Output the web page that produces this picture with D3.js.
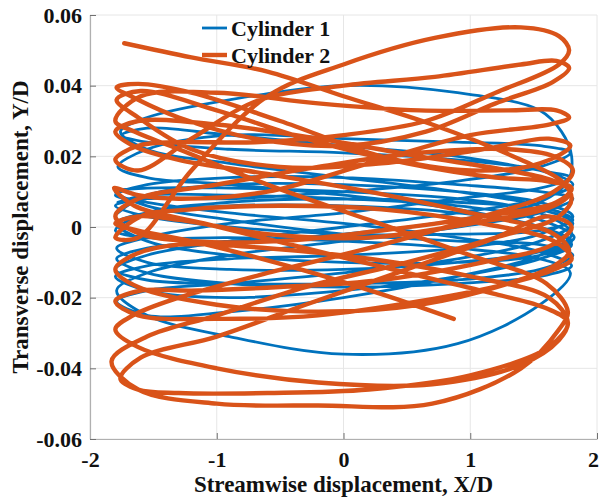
<!DOCTYPE html>
<html>
<head>
<meta charset="utf-8">
<script src="https://cdn.jsdelivr.net/npm/d3@7/dist/d3.min.js"></script>
<style>
  html, body { margin: 0; padding: 0; background: #fff; }
  svg { display: block; }
  text { font-family: "Liberation Serif", "Times New Roman", serif; font-weight: bold; fill: #111; }
</style>
</head>
<body>
<svg id="chart" width="600" height="500"></svg>
<script>
// ---- data ----
const xTicks = [-2, -1, 0, 1, 2];
const xTickLabels = ["-2", "-1", "0", "1", "2"];
const yTicks = [-0.06, -0.04, -0.02, 0, 0.02, 0.04, 0.06];
const yTickLabels = ["-0.06", "-0.04", "-0.02", "0", "0.02", "0.04", "0.06"];
const seriesNames = ["Cylinder 1", "Cylinder 2"];

// Cylinder 1 trajectory (X/D, Y/D)
const cyl1 = [
  [-1.78,0.004],[-1.55,0.009],[-0.9,0.012],[0,0.012],[0.9,0.010],[1.55,0.007],[1.81,0.003],
  [1.55,-0.002],[0.9,-0.006],[0,-0.008],[-0.9,-0.009],[-1.55,-0.011],[-1.80,-0.014],
  [-1.55,-0.018],[-0.9,-0.020],[0,-0.018],[0.9,-0.014],[1.55,-0.009],[1.80,-0.005],
  [1.55,0.000],[0.9,0.004],[0,0.006],[-0.9,0.006],[-1.55,0.004],[-1.79,0.001],
  [-1.55,-0.004],[-0.9,-0.008],[0,-0.010],[0.9,-0.010],[1.55,-0.008],[1.80,-0.004],
  [1.55,0.000],[0.9,0.005],[0,0.009],[-0.9,0.012],[-1.55,0.014],[-1.78,0.017],
  [-1.55,0.022],[-0.9,0.026],[0,0.025],[0.9,0.024],[1.55,0.023],[1.79,0.021],
  [1.55,0.017],[0.9,0.013],[0,0.010],[-0.9,0.008],[-1.55,0.008],[-1.80,0.006],
  [-1.55,0.003],[-0.9,0.000],[0,-0.002],[0.9,-0.002],[1.55,-0.001],[1.81,0.002],
  [1.55,0.006],[0.9,0.010],[0,0.014],[-0.9,0.018],[-1.55,0.022],[-1.76,0.027],
  [-1.55,0.031],[-0.9,0.036],[0,0.040],[0.9,0.038],[1.55,0.033],[1.72,0.027],[1.80,0.020],[1.77,0.013],
  [1.55,0.007],[0.9,0.002],[0,-0.002],[-0.9,-0.004],[-1.55,-0.006],[-1.79,-0.009],
  [-1.55,-0.013],[-0.9,-0.016],[0,-0.017],[0.9,-0.016],[1.55,-0.014],[1.80,-0.011],
  [1.55,-0.007],[0.9,-0.003],[0,0.001],[-0.9,0.004],[-1.55,0.007],[-1.80,0.009],
  [-1.55,0.012],[-0.9,0.014],[0,0.014],[0.9,0.012],[1.55,0.010],[1.81,0.008],
  [1.55,0.004],[0.9,0.000],[0,-0.004],[-0.9,-0.008],[-1.55,-0.013],[-1.79,-0.018],
  [-1.55,-0.025],[-0.9,-0.031],[0,-0.036],[0.9,-0.033],[1.55,-0.022],[1.79,-0.013],
  [1.55,-0.009],[0.9,-0.006],[0,-0.004],[-0.9,-0.003],[-1.55,-0.003],[-1.80,-0.001],
  [-1.55,0.004],[-0.9,0.007],[0,0.008],[0.9,0.007],[1.55,0.005],[1.81,0.001],
  [1.55,-0.004],[0.9,-0.009],[0,-0.013],[-0.9,-0.016],[-1.55,-0.018],[-1.79,-0.021],
  [-1.55,-0.025],[-0.9,-0.024],[0,-0.020],[0.9,-0.014],[1.55,-0.008],[1.80,-0.002],
  [1.55,0.004],[0.9,0.008],[0,0.010],[-0.9,0.011],[-1.55,0.011],[-1.80,0.010],
  [-1.55,0.006],[-0.9,0.002],[0,-0.002],[0.9,-0.004],[1.55,-0.005],[1.81,-0.008],
  [1.55,-0.012],[0.9,-0.015],[0,-0.016],[-0.9,-0.016],[-1.55,-0.015],[-1.80,-0.012],
  [-1.55,-0.008],[-0.9,-0.004],[0,0.000],[0.9,0.004],[1.55,0.008],[1.81,0.012],
  [1.55,0.016],[0.9,0.019],[0,0.021],[-0.9,0.022],[-1.55,0.024],[-1.75,0.026],
  [-1.55,0.028],[-0.9,0.026],[0,0.023],[0.9,0.020],[1.55,0.016],[1.79,0.014],
  [1.55,0.011],[0.9,0.008],[0,0.004],[-0.9,0.001],[-1.55,-0.003],[-1.79,-0.006],
  [-1.55,-0.010],[-0.9,-0.012],[0,-0.012],[0.9,-0.010],[1.55,-0.007],[1.82,-0.003],
  [1.55,0.002],[0.9,0.006],[0,0.008],[-0.9,0.009],[-1.55,0.009],[-1.78,0.007]
];

// Cylinder 2 trajectory (X/D, Y/D)
const cyl2 = [
  [-1.73,0.052],[-1.2,0.048],[-0.6,0.044],[0,0.037],[0.7,0.029],[1.4,0.019],[1.72,0.013],[1.80,0.008],
  [1.7,0.003],[1.2,-0.003],[0.5,-0.010],[-0.3,-0.017],[-1.0,-0.025],[-1.55,-0.031],[-1.83,-0.038],
  [-1.62,-0.046],[-1.0,-0.050],[-0.2,-0.0505],[0.7,-0.050],[1.4,-0.040],[1.7,-0.029],[1.77,-0.024],
  [1.6,-0.016],[1.0,-0.008],[0.2,0.002],[-0.6,0.012],[-1.3,0.022],[-1.65,0.027],[-1.80,0.030],
  [-1.6,0.037],[-1.0,0.038],[-0.2,0.035],[0.6,0.033],[1.3,0.033],[1.68,0.033],[1.78,0.031],
  [1.62,0.029],[1.0,0.026],[0.2,0.018],[-0.6,0.010],[-1.3,0.008],[-1.62,0.009],[-1.81,0.011],
  [-1.65,0.006],[-1.1,0.001],[-0.3,-0.006],[0.5,-0.013],[1.2,-0.019],[1.6,-0.023],[1.77,-0.027],
  [1.62,-0.034],[1.0,-0.042],[0.2,-0.046],[-0.6,-0.047],[-1.3,-0.047],[-1.62,-0.046],[-1.76,-0.043],
  [-1.6,-0.037],[-1.0,-0.031],[-0.3,-0.022],[0.5,-0.012],[1.2,-0.003],[1.62,0.003],[1.80,0.000],
  [1.65,-0.005],[1.1,-0.010],[0.3,-0.015],[-0.5,-0.017],[-1.2,-0.018],[-1.6,-0.018],[-1.80,-0.021],
  [-1.62,-0.025],[-1.0,-0.026],[-0.2,-0.025],[0.6,-0.021],[1.3,-0.016],[1.66,-0.012],[1.80,-0.009],
  [1.66,-0.004],[1.1,0.001],[0.3,0.005],[-0.5,0.006],[-1.2,0.005],[-1.6,0.003],[-1.80,-0.003],
  [-1.62,-0.003],[-1.2,0.016],[-0.6,0.037],[0,0.046],[0.72,0.0535],[1.4,0.0565],[1.7,0.054],[1.78,0.050],
  [1.7,0.046],[1.2,0.038],[0.65,0.030],[0,0.026],[-0.7,0.024],[-1.3,0.024],[-1.62,0.023],[-1.80,0.019],
  [-1.62,0.016],[-1.2,0.025],[-0.69,0.0356],[0,0.040],[0.72,0.0425],[1.4,0.046],[1.68,0.047],[1.78,0.045],
  [1.65,0.041],[1.2,0.035],[0.65,0.027],[0,0.023],[-0.7,0.025],[-1.3,0.031],[-1.62,0.036],[-1.79,0.0395],
  [-1.62,0.0405],[-1.2,0.038],[-0.5,0.030],[0.3,0.020],[1.0,0.016],[1.55,0.018],[1.79,0.023],
  [1.62,0.025],[1.1,0.022],[0.3,0.018],[-0.5,0.017],[-1.2,0.022],[-1.62,0.031],[-1.79,0.036],
  [-1.6,0.0385],[-1.0,0.033],[-0.3,0.025],[0.5,0.018],[1.2,0.014],[1.6,0.013],[1.80,0.011],
  [1.68,0.007],[1.1,0.003],[0.3,-0.001],[-0.5,-0.004],[-1.2,-0.004],[-1.6,-0.002],[-1.80,0.003],
  [-1.62,0.008],[-1.0,0.012],[-0.2,0.017],[0.6,0.021],[1.3,0.022],[1.66,0.020],[1.81,0.016],
  [1.66,0.010],[1.0,0.002],[0.2,-0.006],[-0.6,-0.013],[-1.3,-0.020],[-1.66,-0.025],[-1.80,-0.029],
  [-1.62,-0.034],[-1.0,-0.040],[-0.2,-0.044],[0.7,-0.0445],[1.4,-0.039],[1.7,-0.032],[1.77,-0.027],
  [1.62,-0.020],[1.0,-0.014],[0.2,-0.009],[-0.6,-0.006],[-1.3,-0.005],[-1.66,-0.008],[-1.80,-0.012],
  [-1.62,-0.017],[-1.0,-0.022],[-0.2,-0.024],[0.6,-0.022],[1.3,-0.016],[1.66,-0.011],[1.78,-0.007],
  [1.66,-0.002],[1.0,0.004],[0.2,0.010],[-0.6,0.015],[-1.3,0.019],[-1.66,0.023],[-1.80,0.027],
  [-1.62,0.030],[-1.0,0.029],[-0.2,0.025],[0.6,0.020],[1.3,0.016],[1.66,0.013],[1.79,0.010],
  [1.66,0.006],[1.0,0.001],[0.2,-0.003],[-0.6,-0.002],[-1.3,0.002],[-1.62,0.003],[-1.80,0.001],
  [-1.62,-0.001],[-1.2,-0.004],[-0.34,-0.012],[0.3,-0.019],[0.87,-0.026]
];

// ---- layout ----
const W = 600, H = 500;
const plot = { left: 90, right: 597, top: 15, bottom: 439 };
const colors = ["#0072BD", "#D95319"];
const widths = [2.8, 4.4];

const svg = d3.select("#chart");
const x = d3.scaleLinear().domain([-2, 2]).range([plot.left, plot.right]);
const y = d3.scaleLinear().domain([-0.06, 0.06]).range([plot.bottom, plot.top]);

// grid
const grid = svg.append("g");
grid.selectAll("line.gx").data(xTicks).join("line")
  .attr("x1", d => x(d)).attr("x2", d => x(d))
  .attr("y1", plot.top).attr("y2", plot.bottom)
  .attr("stroke", "#e6e6e6").attr("stroke-width", 1);
grid.selectAll("line.gy").data(yTicks).join("line")
  .attr("x1", plot.left).attr("x2", plot.right)
  .attr("y1", d => y(d)).attr("y2", d => y(d))
  .attr("stroke", "#e6e6e6").attr("stroke-width", 1);

// clip
svg.append("clipPath").attr("id", "clip").append("rect")
  .attr("x", plot.left).attr("y", plot.top)
  .attr("width", plot.right - plot.left).attr("height", plot.bottom - plot.top);

const line = d3.line().x(d => x(d[0])).y(d => y(d[1])).curve(d3.curveCatmullRom.alpha(0.5));
const g = svg.append("g").attr("clip-path", "url(#clip)");
[cyl1, cyl2].forEach((s, i) => {
  g.append("path").datum(s)
    .attr("d", line)
    .attr("fill", "none")
    .attr("stroke", colors[i])
    .attr("stroke-width", widths[i])
    .attr("stroke-linejoin", "round")
    .attr("stroke-linecap", "round");
});

// axes
const xAxis = d3.axisBottom(x).tickValues(xTicks).tickFormat((d, i) => xTickLabels[i])
  .tickSizeInner(-6).tickSizeOuter(0).tickPadding(14);
const yAxis = d3.axisLeft(y).tickValues(yTicks).tickFormat((d, i) => yTickLabels[i])
  .tickSizeInner(-6).tickSizeOuter(0).tickPadding(14);

const gx = svg.append("g").attr("transform", `translate(0,${plot.bottom})`).call(xAxis);
const gy = svg.append("g").attr("transform", `translate(${plot.left},0)`).call(yAxis);
[gx, gy].forEach(a => {
  a.select(".domain").attr("stroke", "#b0b0b0").attr("stroke-width", 1.2);
  a.selectAll(".tick line").attr("stroke", "#707070").attr("stroke-width", 1);
  a.selectAll(".tick text").attr("font-size", 22).attr("font-family", null).attr("fill", "#111");
});
gy.selectAll(".tick text").attr("x", -8);
gx.selectAll(".tick text").attr("y", 12).attr("dx", (d, i) => i === xTicks.length - 1 ? -4 : 0);

// axis labels
svg.append("text")
  .attr("x", x(0)).attr("y", 492)
  .attr("text-anchor", "middle").attr("font-size", 23)
  .text("Streamwise displacement, X/D");
svg.append("text")
  .attr("transform", `translate(28,${(plot.top + plot.bottom) / 2}) rotate(-90)`)
  .attr("text-anchor", "middle").attr("font-size", 23)
  .text("Transverse displacement, Y/D");

// legend
const leg = svg.append("g");
seriesNames.forEach((name, i) => {
  const ly = 28 + i * 27;
  leg.append("line").attr("x1", 202).attr("x2", 227).attr("y1", ly).attr("y2", ly)
    .attr("stroke", colors[i]).attr("stroke-width", widths[i]);
  leg.append("text").attr("x", 231).attr("y", ly + 8).attr("font-size", 22).text(name);
});
</script>
</body>
</html>
